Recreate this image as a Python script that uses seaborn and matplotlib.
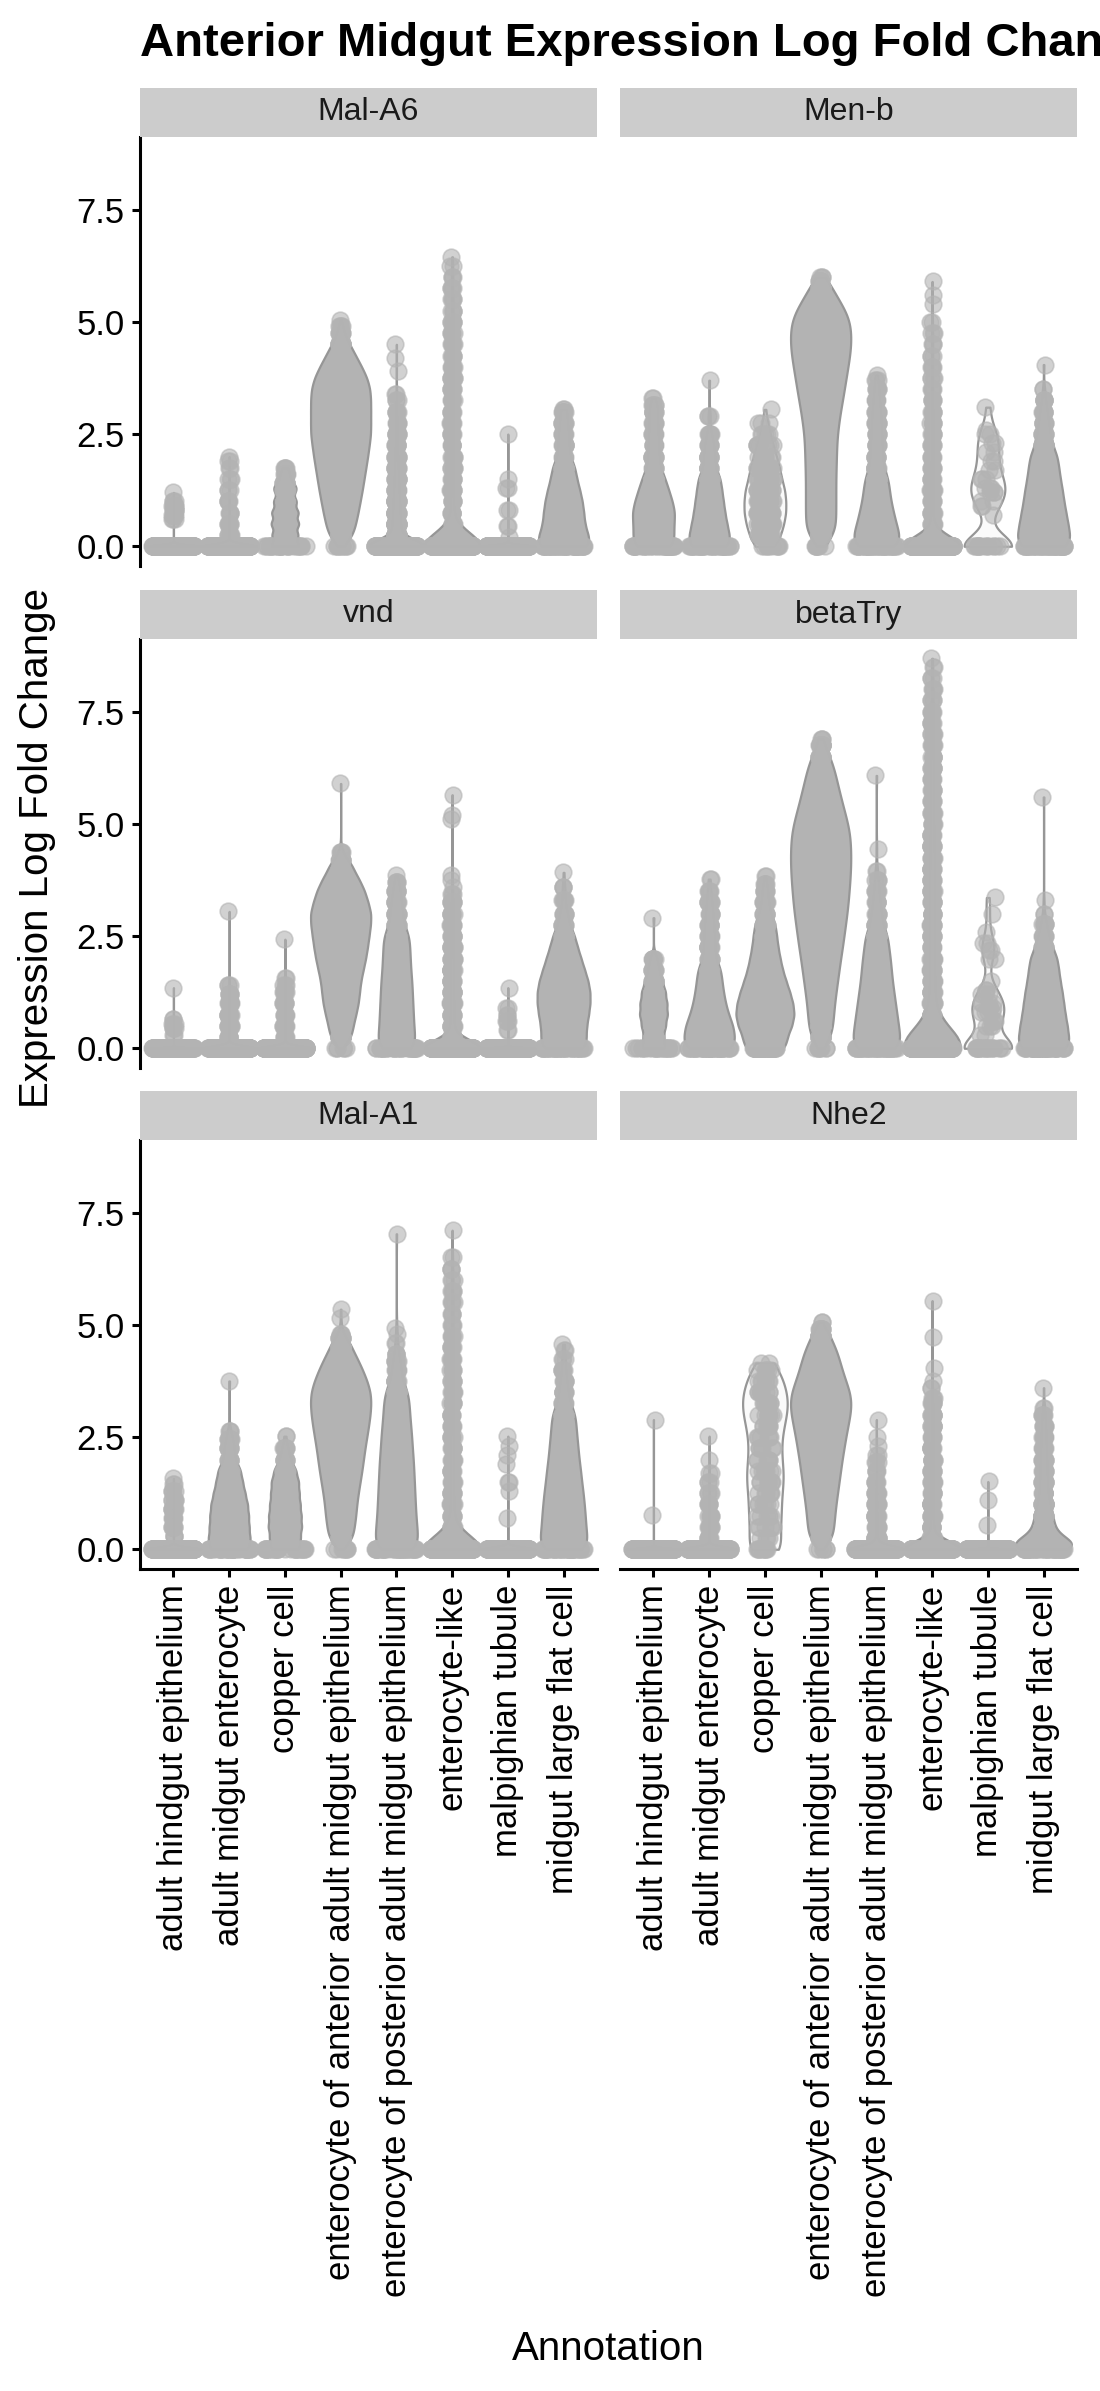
import numpy as np
import pandas as pd
import matplotlib
matplotlib.use("Agg")
import matplotlib.pyplot as plt
import seaborn as sns

GENES = ["Mal-A6", "Men-b", "vnd", "betaTry", "Mal-A1", "Nhe2"]
CELL_TYPES = ["adult hindgut epithelium", "adult midgut enterocyte", "copper cell",
              "enterocyte of anterior adult midgut epithelium",
              "enterocyte of posterior adult midgut epithelium",
              "enterocyte-like", "malpighian tubule", "midgut large flat cell"]

# (value, number of cells) per cell type
MAL_A6 = [
    [(0, 300), (0.6, 3), (0.7, 4), (0.8, 5), (0.9, 5), (1.0, 3), (1.2, 1)],
    [(0, 300), (0.25, 6), (0.5, 5), (0.75, 4), (1.0, 4), (1.25, 3), (1.5, 3), (1.75, 2), (1.9, 2), (2.0, 1)],
    [(0, 30), (0.25, 26), (0.5, 28), (0.75, 27), (1.0, 23), (1.25, 19), (1.4, 12), (1.6, 8), (1.75, 4)],
    [(0, 10), (0.25, 40), (0.5, 50), (0.75, 58), (1.0, 65), (1.25, 72), (1.5, 78), (1.75, 84), (2.0, 90),
     (2.25, 95), (2.5, 100), (2.75, 100), (3.0, 100), (3.25, 100), (3.5, 98), (3.75, 88), (4.0, 70),
     (4.25, 50), (4.5, 30), (4.75, 12), (4.9, 4), (5.05, 1)],
    [(0, 300), (0.25, 40), (0.5, 36), (0.75, 32), (1.0, 28), (1.25, 24), (1.5, 20), (1.75, 17), (2.0, 14),
     (2.25, 11), (2.5, 9), (2.75, 7), (3.0, 5), (3.25, 3), (3.4, 2), (3.9, 1), (4.2, 1), (4.5, 1)],
    [(0, 300), (0.25, 8), (0.5, 7), (0.75, 7), (1.0, 6), (1.25, 6), (1.5, 6), (1.75, 6), (2.0, 6), (2.25, 6),
     (2.5, 6), (2.75, 6), (3.0, 6), (3.25, 6), (3.5, 6), (3.75, 6), (4.0, 6), (4.25, 5), (4.5, 5), (4.75, 5),
     (5.0, 5), (5.25, 4), (5.5, 4), (5.75, 4), (6.0, 3), (6.25, 2), (6.45, 1)],
    [(0, 300), (0.2, 1), (0.45, 2), (0.8, 2), (1.3, 2), (1.5, 1), (2.5, 1)],
    [(0, 55), (0.25, 50), (0.5, 43), (0.75, 41), (1.0, 38), (1.25, 33), (1.5, 27), (1.75, 23), (2.0, 14),
     (2.25, 12), (2.5, 11), (2.75, 9), (3.0, 6), (3.05, 2)],
]
MEN_B = [
    [(0, 40), (0.25, 40), (0.5, 40), (0.75, 42), (1.0, 37), (1.25, 30), (1.5, 23), (1.75, 14), (2.0, 12),
     (2.25, 11), (2.5, 10), (2.75, 9), (3.0, 8), (3.15, 5), (3.3, 2)],
    [(0, 40), (0.25, 40), (0.5, 35), (0.75, 31), (1.0, 28), (1.25, 25), (1.5, 22), (1.75, 13), (2.0, 12),
     (2.25, 10), (2.5, 6), (2.9, 3), (3.7, 1)],
    [(0, 10), (0.25, 15), (0.5, 18), (0.75, 20), (1.0, 20), (1.25, 19), (1.5, 16), (1.75, 14), (2.0, 11),
     (2.25, 8), (2.5, 5), (2.75, 3), (3.05, 1)],
    [(0, 8), (0.25, 45), (0.5, 50), (0.75, 50), (1.0, 50), (1.25, 50), (1.5, 50), (1.75, 51), (2.0, 52),
     (2.25, 53), (2.5, 55), (2.75, 60), (3.0, 65), (3.25, 72), (3.5, 78), (3.75, 84), (4.0, 90), (4.25, 96),
     (4.5, 100), (4.75, 100), (5.0, 97), (5.25, 82), (5.5, 60), (5.75, 35), (5.9, 12), (6.0, 3)],
    [(0, 45), (0.25, 45), (0.5, 38), (0.75, 33), (1.0, 28), (1.25, 25), (1.5, 23), (1.75, 14), (2.0, 13),
     (2.25, 12), (2.5, 11), (2.75, 10), (3.0, 9), (3.25, 7), (3.5, 5), (3.7, 3), (3.82, 1)],
    [(0, 300), (0.25, 8), (0.5, 7), (0.75, 7), (1.0, 6), (1.25, 6), (1.5, 6), (1.75, 6), (2.0, 6), (2.25, 5),
     (2.5, 5), (2.75, 5), (3.0, 5), (3.25, 5), (3.5, 4), (3.75, 4), (4.0, 4), (4.25, 3), (4.5, 3), (4.75, 3),
     (5.0, 2), (5.4, 1), (5.6, 1), (5.9, 1)],
    [(0, 15), (0.7, 1), (0.9, 2), (1.0, 2), (1.2, 3), (1.3, 3), (1.5, 3), (1.7, 2), (1.9, 2), (2.1, 2),
     (2.3, 2), (2.5, 2), (2.6, 1), (3.1, 1)],
    [(0, 50), (0.25, 52), (0.5, 48), (0.75, 44), (1.0, 40), (1.25, 37), (1.5, 33), (1.75, 30), (2.0, 27),
     (2.25, 18), (2.5, 14), (2.75, 11), (3.0, 8), (3.25, 5), (3.5, 2), (4.05, 1)],
]
VND = [
    [(0, 300), (0.3, 2), (0.45, 3), (0.55, 3), (0.65, 2), (1.35, 1)],
    [(0, 300), (0.25, 8), (0.5, 10), (0.75, 10), (1.0, 9), (1.2, 6), (1.4, 3), (3.05, 1)],
    [(0, 300), (0.25, 6), (0.5, 7), (0.75, 7), (1.0, 6), (1.25, 5), (1.4, 3), (1.57, 2), (2.43, 1)],
    [(0, 6), (0.25, 35), (0.5, 41), (0.75, 50), (1.0, 58), (1.25, 62), (1.5, 66), (1.75, 74), (2.0, 82),
     (2.25, 88), (2.5, 93), (2.75, 98), (3.0, 100), (3.25, 90), (3.5, 79), (3.75, 62), (4.0, 40), (4.2, 18),
     (4.37, 4), (5.9, 1)],
    [(0, 36), (0.25, 36), (0.5, 34), (0.75, 33), (1.0, 32), (1.25, 31), (1.5, 30), (1.75, 28), (2.0, 27),
     (2.25, 26), (2.5, 25), (2.75, 15), (3.0, 13), (3.25, 11), (3.5, 8), (3.7, 4), (3.85, 1)],
    [(0, 300), (0.25, 15), (0.5, 14), (0.75, 13), (1.0, 12), (1.25, 12), (1.5, 11), (1.75, 11), (2.0, 10),
     (2.25, 10), (2.5, 9), (2.75, 9), (3.0, 8), (3.25, 8), (3.43, 3), (3.6, 1), (3.75, 1), (3.85, 1),
     (5.1, 1), (5.2, 1), (5.65, 1)],
    [(0, 300), (0.4, 2), (0.6, 3), (0.75, 2), (0.9, 2), (1.35, 1)],
    [(0, 45), (0.25, 45), (0.5, 46), (0.75, 50), (1.0, 53), (1.25, 53), (1.5, 49), (1.75, 42), (2.0, 35),
     (2.25, 28), (2.5, 22), (2.75, 13), (3.0, 9), (3.3, 5), (3.6, 3), (3.92, 1)],
]
BETA_TRY = [
    [(0, 25), (0.25, 20), (0.5, 24), (0.75, 28), (1.0, 27), (1.25, 24), (1.5, 18), (1.75, 12), (2.0, 8),
     (2.91, 1)],
    [(0, 50), (0.25, 50), (0.5, 47), (0.75, 38), (1.0, 32), (1.25, 28), (1.5, 25), (1.75, 23), (2.0, 13),
     (2.25, 12), (2.5, 11), (2.75, 10), (3.0, 8), (3.25, 6), (3.5, 4), (3.77, 2)],
    [(0, 60), (0.25, 64), (0.5, 78), (0.75, 85), (1.0, 81), (1.25, 72), (1.5, 61), (1.75, 51), (2.0, 44),
     (2.25, 38), (2.5, 34), (2.75, 30), (3.0, 18), (3.25, 12), (3.5, 8), (3.65, 4), (3.84, 2)],
    [(0, 8), (0.25, 35), (0.5, 40), (0.75, 43), (1.0, 46), (1.25, 51), (1.5, 56), (1.75, 61), (2.0, 66),
     (2.25, 72), (2.5, 77), (2.75, 82), (3.0, 87), (3.25, 91), (3.5, 94), (3.75, 97), (4.0, 99), (4.25, 100),
     (4.5, 99), (4.75, 97), (5.0, 90), (5.25, 80), (5.5, 70), (5.75, 61), (6.0, 52), (6.25, 44), (6.5, 30),
     (6.75, 14), (6.9, 3)],
    [(0, 46), (0.25, 46), (0.5, 43), (0.75, 40), (1.0, 37), (1.25, 34), (1.5, 31), (1.75, 29), (2.0, 27),
     (2.25, 24), (2.5, 22), (2.75, 13), (3.0, 11), (3.25, 8), (3.5, 6), (3.75, 4), (3.96, 2), (4.44, 1),
     (6.08, 1)],
    [(0, 300), (0.25, 60), (0.5, 25), (0.75, 14), (1.0, 11), (1.25, 11), (1.5, 10), (1.75, 10), (2.0, 10),
     (2.25, 10), (2.5, 10), (2.75, 10), (3.0, 10), (3.25, 10), (3.5, 10), (3.75, 10), (4.0, 9), (4.25, 9),
     (4.5, 9), (4.75, 8), (5.0, 6), (5.25, 6), (5.5, 6), (5.75, 6), (6.0, 6), (6.25, 6), (6.5, 6), (6.75, 6),
     (7.0, 5), (7.25, 5), (7.5, 5), (7.75, 4), (8.0, 4), (8.25, 3), (8.5, 2), (8.69, 1)],
    [(0, 20), (0.3, 2), (0.5, 3), (0.6, 3), (0.8, 4), (0.9, 3), (1.0, 4), (1.2, 3), (1.3, 2), (1.5, 1),
     (2.0, 2), (2.2, 2), (2.35, 2), (2.6, 1), (3.0, 1), (3.36, 1)],
    [(0, 50), (0.25, 50), (0.5, 47), (0.75, 43), (1.0, 40), (1.25, 37), (1.5, 33), (1.75, 30), (2.0, 27),
     (2.25, 18), (2.5, 12), (2.76, 7), (3.0, 2), (3.3, 1), (5.6, 1)],
]
MAL_A1 = [
    [(0, 300), (0.3, 3), (0.5, 5), (0.7, 6), (0.9, 6), (1.1, 5), (1.3, 4), (1.45, 2), (1.58, 1)],
    [(0, 42), (0.25, 42), (0.5, 40), (0.75, 39), (1.0, 37), (1.25, 32), (1.5, 27), (1.75, 23), (2.0, 13),
     (2.25, 10), (2.45, 6), (2.63, 3), (3.75, 1)],
    [(0, 30), (0.25, 30), (0.5, 33), (0.75, 32), (1.0, 30), (1.25, 28), (1.5, 27), (1.75, 22), (2.0, 12),
     (2.25, 7), (2.52, 2)],
    [(0, 8), (0.25, 40), (0.5, 45), (0.75, 50), (1.0, 53), (1.25, 58), (1.5, 64), (1.75, 70), (2.0, 75),
     (2.25, 80), (2.5, 86), (2.75, 92), (3.0, 97), (3.25, 100), (3.5, 98), (3.75, 87), (4.0, 72), (4.25, 55),
     (4.5, 35), (4.7, 14), (4.8, 3), (5.15, 1), (5.35, 1)],
    [(0, 42), (0.25, 42), (0.5, 40), (0.75, 38), (1.0, 37), (1.25, 36), (1.5, 35), (1.75, 34), (2.0, 33),
     (2.25, 31), (2.5, 30), (2.75, 28), (3.0, 26), (3.25, 25), (3.5, 23), (3.75, 12), (4.0, 9), (4.2, 6),
     (4.35, 4), (4.6, 2), (4.8, 1), (4.94, 1), (7.03, 1)],
    [(0, 300), (0.25, 9), (0.5, 8), (0.75, 8), (1.0, 8), (1.25, 7), (1.5, 7), (1.75, 7), (2.0, 7), (2.25, 7),
     (2.5, 6), (2.75, 6), (3.0, 6), (3.25, 6), (3.5, 6), (3.75, 5), (4.0, 5), (4.25, 5), (4.5, 5), (4.75, 5),
     (5.0, 4), (5.25, 4), (5.5, 4), (5.75, 4), (6.0, 3), (6.25, 3), (6.51, 2), (7.11, 1)],
    [(0, 300), (0.7, 1), (1.3, 1), (1.5, 2), (1.9, 1), (2.1, 1), (2.3, 1), (2.52, 1)],
    [(0, 46), (0.25, 46), (0.5, 43), (0.75, 42), (1.0, 40), (1.25, 38), (1.5, 35), (1.75, 33), (2.0, 30),
     (2.25, 28), (2.5, 26), (2.75, 24), (3.0, 23), (3.25, 13), (3.5, 10), (3.75, 7), (4.0, 5), (4.25, 3),
     (4.45, 2), (4.57, 1)],
]
NHE2 = [
    [(0, 300), (0.76, 1), (2.89, 1)],
    [(0, 300), (0.25, 6), (0.5, 6), (0.75, 5), (1.0, 5), (1.25, 4), (1.5, 3), (1.7, 2), (2.0, 1), (2.52, 1)],
    [(0, 10), (0.25, 4), (0.5, 6), (0.75, 6), (1.0, 6), (1.25, 6), (1.5, 7), (1.75, 7), (2.0, 6), (2.25, 6),
     (2.5, 6), (2.75, 7), (3.0, 8), (3.25, 9), (3.5, 8), (3.75, 7), (4.0, 5), (4.15, 2)],
    [(0, 6), (0.25, 38), (0.5, 43), (0.75, 46), (1.0, 50), (1.25, 55), (1.5, 60), (1.75, 65), (2.0, 70),
     (2.25, 76), (2.5, 82), (2.75, 89), (3.0, 96), (3.25, 100), (3.5, 95), (3.75, 82), (4.0, 70), (4.25, 60),
     (4.5, 48), (4.75, 28), (4.9, 10), (5.06, 2)],
    [(0, 300), (0.25, 15), (0.5, 13), (0.75, 11), (1.0, 10), (1.25, 8), (1.5, 6), (1.75, 4), (1.95, 3),
     (2.1, 2), (2.3, 1), (2.5, 1), (2.89, 1)],
    [(0, 300), (0.25, 12), (0.5, 11), (0.75, 10), (1.0, 10), (1.25, 9), (1.5, 9), (1.75, 8), (2.0, 8),
     (2.25, 8), (2.5, 7), (2.75, 7), (3.0, 7), (3.25, 6), (3.38, 3), (3.6, 2), (3.75, 1), (4.05, 1),
     (4.72, 1), (5.54, 1)],
    [(0, 300), (0.54, 1), (1.1, 1), (1.51, 1)],
    [(0, 50), (0.1, 55), (0.25, 45), (0.5, 32), (0.75, 26), (1.0, 20), (1.25, 13), (1.5, 12), (1.75, 11),
     (2.0, 10), (2.25, 9), (2.5, 8), (2.75, 7), (3.0, 5), (3.15, 2), (3.6, 1)],
]
GENE_DATA = [MAL_A6, MEN_B, VND, BETA_TRY, MAL_A1, NHE2]

rows = []
for gene, groups in zip(GENES, GENE_DATA):
    for cell, pairs in zip(CELL_TYPES, groups):
        for value, count in pairs:
            rows += [(gene, cell, value)] * count
df = pd.DataFrame(rows, columns=["gene", "cell", "value"])

# styling
POINT = "#B3B3B3"
DENSE = "#B3B3B3"
LIGHT = "#FAFAFA"
LINE = "#969696"
ANT = "enterocyte of anterior adult midgut epithelium"
SPARSE = {("Men-b", "copper cell"), ("Men-b", "malpighian tubule"),
          ("betaTry", "malpighian tubule"), ("Nhe2", "copper cell")}
ZERO_JITTER = {ANT: 0.12,
               ("Men-b", "copper cell"): 0.28, ("Men-b", "malpighian tubule"): 0.26,
               ("betaTry", "copper cell"): 0.22, ("betaTry", "malpighian tubule"): 0.27,
               ("Nhe2", "copper cell"): 0.15}
VIOLIN_W = {ANT: 1.08,
            ("Mal-A6", "copper cell"): 0.5, ("Mal-A6", "midgut large flat cell"): 0.9,
            ("Men-b", "adult hindgut epithelium"): 0.75, ("Men-b", "adult midgut enterocyte"): 0.72,
            ("Men-b", "copper cell"): 0.75, ("Men-b", "enterocyte of posterior adult midgut epithelium"): 0.8,
            ("Men-b", "malpighian tubule"): 0.85, ("Men-b", "midgut large flat cell"): 0.93,
            ("vnd", "enterocyte of posterior adult midgut epithelium"): 0.65,
            ("vnd", "midgut large flat cell"): 0.95,
            ("betaTry", "adult hindgut epithelium"): 0.5, ("betaTry", "adult midgut enterocyte"): 0.9,
            ("betaTry", "copper cell"): 1.04,
            ("betaTry", "enterocyte of posterior adult midgut epithelium"): 0.83,
            ("betaTry", "malpighian tubule"): 0.85, ("betaTry", "midgut large flat cell"): 0.9,
            ("Mal-A1", "adult midgut enterocyte"): 0.75, ("Mal-A1", "copper cell"): 0.6,
            ("Mal-A1", "enterocyte of posterior adult midgut epithelium"): 0.75,
            ("Mal-A1", "midgut large flat cell"): 0.83,
            ("Nhe2", "copper cell"): 0.8}

sns.set_style("ticks")
plt.rcParams["font.family"] = ["Liberation Sans", "DejaVu Sans"]
plt.rcParams["text.color"] = "black"
np.random.seed(7)

W, H = 1100, 2391
COL_LEFT = [140, 620]
ROW_TOP = [137, 639, 1140]
PANEL_W, PANEL_H, STRIP_H = 457, 429, 49


def box(left, top, width, height):
    return [left / W, 1 - (top + height) / H, width / W, height / H]


fig = plt.figure(figsize=(W / 100, H / 100), dpi=100)

for i, gene in enumerate(GENES):
    r, c = divmod(i, 2)
    ax = fig.add_axes(box(COL_LEFT[c], ROW_TOP[r], PANEL_W, PANEL_H))
    sub = df[df.gene == gene]
    for cell in CELL_TYPES:
        g = sub[sub.cell == cell]
        key = (gene, cell)
        sparse = key in SPARSE
        sns.violinplot(data=g, x="cell", y="value", order=CELL_TYPES,
                       color=LIGHT if sparse else DENSE, density_norm="width", cut=0,
                       inner=None, width=VIOLIN_W.get(key, VIOLIN_W.get(cell, 1.0)),
                       bw_adjust=0.6, linecolor=LINE, linewidth=1.6, saturation=1, ax=ax)
    for cell in CELL_TYPES:
        g = sub[sub.cell == cell]
        key = (gene, cell)
        sparse = key in SPARSE
        zj = ZERO_JITTER.get(key, ZERO_JITTER.get(cell, 0.38))
        sns.stripplot(data=g[g.value == 0], x="cell", y="value", order=CELL_TYPES,
                      jitter=zj, color=POINT, alpha=0.6, size=12, linewidth=1.2,
                      edgecolor=POINT, ax=ax)
        sns.stripplot(data=g[g.value > 0], x="cell", y="value", order=CELL_TYPES,
                      jitter=0.15 if sparse else 0.03, color=POINT, alpha=0.6, size=12,
                      linewidth=1.2, edgecolor=POINT, ax=ax)

    ax.set_xlim(-0.6, 7.6)
    ax.set_ylim(-0.44, 9.12)
    ax.set_xlabel("")
    ax.set_ylabel("")
    ax.set_yticks([0, 2.5, 5, 7.5])
    ax.set_yticklabels(["0.0", "2.5", "5.0", "7.5"])
    ax.set_xticks(range(len(CELL_TYPES)))
    ax.set_xticklabels(CELL_TYPES, rotation=90)
    for side in ["top", "right"]:
        ax.spines[side].set_visible(False)
    ax.spines["left"].set_visible(c == 0)
    ax.spines["bottom"].set_visible(r == 2)
    for side in ["left", "bottom"]:
        ax.spines[side].set_linewidth(2.2)
        ax.spines[side].set_color("black")
    ax.tick_params(left=(c == 0), labelleft=(c == 0), bottom=(r == 2), labelbottom=(r == 2),
                   length=6, width=2.2, pad=5, labelsize=25, color="black", labelcolor="black")

    sax = fig.add_axes(box(COL_LEFT[c], ROW_TOP[r] - STRIP_H, PANEL_W, STRIP_H))
    sax.set_facecolor("#CCCCCC")
    sax.set_xticks([])
    sax.set_yticks([])
    for s in sax.spines.values():
        s.set_visible(False)
    sax.text(0.5, 0.5, gene, ha="center", va="center", fontsize=23, color="#1A1A1A",
             transform=sax.transAxes)

fig.text(140 / W, 1 - 55.5 / H, "Anterior Midgut Expression Log Fold Change",
         fontsize=34, fontweight="bold", ha="left", va="baseline")
fig.text(608 / W, 1 - 2360 / H, "Annotation", fontsize=29, ha="center", va="baseline")
fig.text(37 / W, 1 - 848 / H, "Expression Log Fold Change", fontsize=29, rotation=90,
         ha="center", va="center")

fig.savefig("out.png", dpi=100)
